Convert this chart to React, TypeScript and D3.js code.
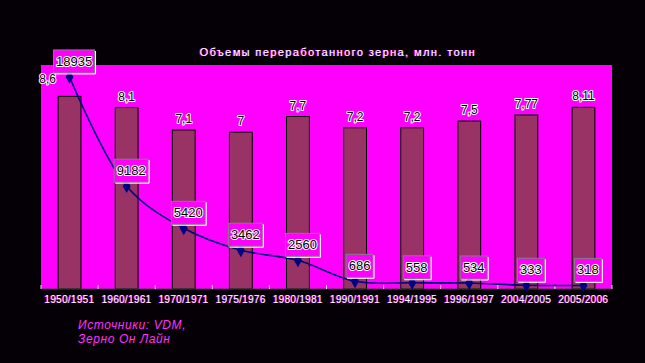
import React from "react";
import * as d3 from "d3";

const categories = ["1950/1951", "1960/1961", "1970/1971", "1975/1976", "1980/1981", "1990/1991", "1994/1995", "1996/1997", "2004/2005", "2005/2006"];
const volumes = [8.6, 8.1, 7.1, 7, 7.7, 7.2, 7.2, 7.5, 7.77, 8.11];
const volumeLabels = ["8,6", "8,1", "7,1", "7", "7,7", "7,2", "7,2", "7,5", "7,77", "8,11"];
const plants = [18935, 9182, 5420, 3462, 2560, 686, 558, 534, 333, 318];
const title = "Объемы переработанного зерна, млн. тонн";
const sourceLines = ["Источники: VDM,", "Зерно Он Лайн"];

const W = 645, H = 363;
const PL = 41, PR = 612, PT = 65, PB = 289;
const FONT = "'Liberation Sans', Arial, sans-serif";

export default function App() {
  const x = d3.scaleBand<string>().domain(categories).range([PL, PR]).paddingInner(0.6).paddingOuter(0.3);
  const yBar = d3.scaleLinear().domain([0, 10]).range([PB, PT]);
  const yLine = d3.scaleLinear().domain([0, 20000]).range([PB, PT]);
  const cx = (c: string) => (x(c) as number) + x.bandwidth() / 2;
  const step = x.step();
  const line = d3.line<number>().x((_, i) => cx(categories[i])).y((d) => yLine(d)).curve(d3.curveCatmullRom.alpha(0.5));
  const tickXs = d3.range(categories.length + 1).map((i) => PL + i * step);

  const shadowText = (key: string, tx: number, ty: number, txt: string, size: number, extra: any = {}) => (
    <g key={key}>
      <text x={tx - 1} y={ty} fill="#ff00ff" fontSize={size} textAnchor="middle" fontFamily={FONT} {...extra}>{txt}</text>
      <text x={tx} y={ty} fill="#ffffff" fontSize={size} textAnchor="middle" fontFamily={FONT} {...extra}>{txt}</text>
    </g>
  );

  return (
    <div style={{ position: "fixed", left: 0, top: 0 }}>
      <svg width={W} height={H} style={{ display: "block" }}>
        <rect x={0} y={0} width={W} height={H} fill="#050005" />
        <rect x={PL} y={PT} width={PR - PL} height={PB - PT} fill="#ff00ff" />
        {shadowText("title", 338, 56, title, 11, { letterSpacing: 1.4 })}
        {categories.map((c, i) => (
          <rect key={"b" + c} x={x(c)} y={yBar(volumes[i])} width={x.bandwidth()} height={PB - yBar(volumes[i])} fill="#993366" stroke="#000" strokeWidth={1} />
        ))}
        <line x1={PL} x2={PR} y1={PB} y2={PB} stroke="#404040" strokeWidth={1} />
        {tickXs.map((tx, i) => (
          <line key={"t" + i} x1={tx} x2={tx} y1={PB - 4} y2={PB} stroke="#e0e0e0" strokeWidth={1} />
        ))}
        {categories.map((c, i) => (
          <text key={"v" + c} x={cx(c) + (i === 0 ? -22 : 0)} y={yBar(volumes[i]) - (i === 0 ? 13 : 7)} fontSize={12} textAnchor="middle" fontFamily={FONT}
            fill="#000" stroke="#fff" strokeWidth={2} paintOrder="stroke" strokeLinejoin="round">{volumeLabels[i]}</text>
        ))}
        <path d={line(plants) || ""} fill="none" stroke="#000080" strokeWidth={1.6} />
        {plants.map((v, i) => {
          const px = cx(categories[i]);
          const py = yLine(v);
          return <path key={"m" + i} d={d3.symbol(d3.symbolDiamond, 55)() || ""} transform={`translate(${px},${py})`} fill="#000080" />;
        })}
        {plants.map((v, i) => {
          const px = cx(categories[i]) + 4.5;
          const py = yLine(v);
          const txt = String(v);
          const bw = txt.length * 7 + 6;
          const bh = 23;
          return (
            <g key={"l" + i}>
              <rect x={px - bw / 2} y={py - 4 - bh} width={bw} height={bh} fill="#ff00ff" stroke="#808080" strokeWidth={1} />
              <path d={`M${px - bw / 2 + 1},${py - 4 + 1}H${px + bw / 2 + 1}V${py - 4 - bh + 1}`} fill="none" stroke="#ffffff" strokeWidth={1} />
              <text x={px} y={py - 4 - bh / 2 + 4.5} fontSize={13} textAnchor="middle" fontFamily={FONT}
                fill="#000" stroke="#fff" strokeWidth={2} paintOrder="stroke" strokeLinejoin="round">{txt}</text>
            </g>
          );
        })}
        {categories.map((c) => shadowText("x" + c, cx(c), 303, c, 10, { letterSpacing: 0.3 }))}
        {sourceLines.map((s, i) => (
          <text key={"s" + i} x={78} y={329 + i * 14} fontSize={12} fontStyle="italic" fontFamily={FONT} fill="#ff33ff" letterSpacing={0.6}>{s}</text>
        ))}
      </svg>
    </div>
  );
}
